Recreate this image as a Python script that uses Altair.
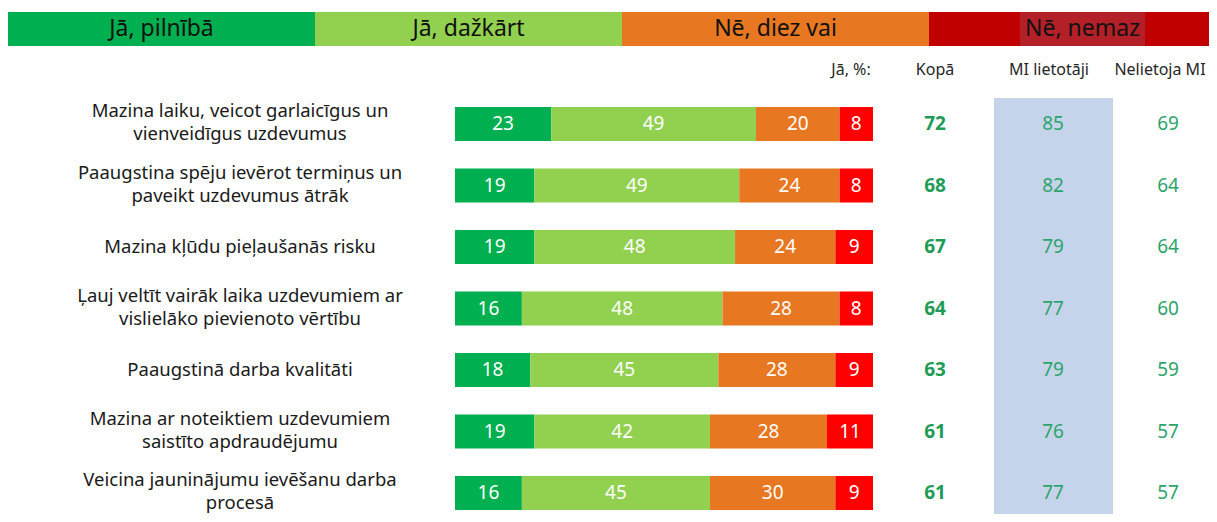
import altair as alt
import pandas as pd

# ---------------- data ----------------
tasks = [
    "Mazina laiku, veicot garlaicīgus un\nvienveidīgus uzdevumus",
    "Paaugstina spēju ievērot termiņus un\npaveikt uzdevumus ātrāk",
    "Mazina kļūdu pieļaušanās risku",
    "Ļauj veltīt vairāk laika uzdevumiem ar\nvislielāko pievienoto vērtību",
    "Paaugstinā darba kvalitāti",
    "Mazina ar noteiktiem uzdevumiem\nsaistīto apdraudējumu",
    "Veicina jauninājumu ievēšanu darba\nprocesā",
]
answers = ["Jā, pilnībā", "Jā, dažkārt", "Nē, diez vai", "Nē, nemaz"]
yes_fully = [23, 19, 19, 16, 18, 19, 16]
yes_sometimes = [49, 49, 48, 48, 45, 42, 45]
rather_not = [20, 24, 24, 28, 28, 28, 30]
not_at_all = [8, 8, 9, 8, 9, 11, 9]
total_yes = [72, 68, 67, 64, 63, 61, 61]
ai_users_yes = [85, 82, 79, 77, 79, 76, 77]
non_users_yes = [69, 64, 64, 60, 59, 57, 57]
col_headers = ["Jā, %:", "Kopā", "MI lietotāji", "Nelietoja MI"]

# ---------------- styles ----------------
bar_colors = ["#00B050", "#92D050", "#E87722", "#FF0000"]
legend_colors = ["#00B050", "#92D050", "#E87722", "#C00000"]
num_green_bold = "#1E9C57"
num_green = "#2DA46B"
FONT = "Noto Sans"

W, H = 1201, 506

# ---------------- tables ----------------
series = [yes_fully, yes_sometimes, rather_not, not_at_all]
rows = []
for i, t in enumerate(tasks):
    for j, a in enumerate(answers):
        rows.append({"task": t, "answer": a, "order": j, "value": series[j][i]})
bars_df = pd.DataFrame(rows)

parts = [t.split("\n") for t in tasks]
cols_df = pd.DataFrame({
    "task": tasks,
    "line1": [p[0] for p in parts],
    "line2": [p[1] if len(p) > 1 else "" for p in parts],
    "nlines": [len(p) for p in parts],
    "total": total_yes,
    "users": ai_users_yes,
    "nonusers": non_users_yes,
})
legend_df = pd.DataFrame({"answer": answers})

# ---------------- scales ----------------
y_scale = alt.Scale(type="band", domain=tasks, range=[85.25, 515.75],
                    paddingInner=0.4472, paddingOuter=0.2236)
Y = alt.Y("task:N", scale=y_scale, axis=None)
x_pct = alt.Scale(domain=[0, 100], range=[447, 865], nice=False, zero=False)
bar_color = alt.Color("answer:N", scale=alt.Scale(domain=answers, range=bar_colors), legend=None)

# ---------------- layers ----------------
stacked = alt.Chart(bars_df).transform_stack(
    stack="value", groupby=["task"], sort=[alt.SortField("order")], as_=["v0", "v1"]
).transform_calculate(mid="(datum.v0 + datum.v1) / 2")

bars = stacked.mark_bar(stroke=None).encode(
    x=alt.X("v0:Q", scale=x_pct, axis=None),
    x2="v1:Q",
    y=Y,
    color=bar_color,
)
bar_text = stacked.mark_text(font=FONT, fontSize=19, color="white", baseline="middle").encode(
    x=alt.X("mid:Q", scale=x_pct, axis=None),
    y=Y,
    text="value:Q",
)

label_style = dict(font=FONT, fontSize=18.5, color="#1a1a1a", align="center", baseline="middle")
lab_base = alt.Chart(cols_df)
lab_single = lab_base.transform_filter("datum.nlines == 1").mark_text(**label_style).encode(
    x=alt.value(232), y=Y, text="line1:N")
lab_top = lab_base.transform_filter("datum.nlines == 2").mark_text(dy=-13, **label_style).encode(
    x=alt.value(232), y=Y, text="line1:N")
lab_bot = lab_base.transform_filter("datum.nlines == 2").mark_text(dy=10, **label_style).encode(
    x=alt.value(232), y=Y, text="line2:N")

highlight = alt.Chart(pd.DataFrame({"a": [0]})).mark_rect(color="#C5D4EA").encode(
    x=alt.value(986), x2=alt.value(1105), y=alt.value(90), y2=alt.value(H)
)

col_total = alt.Chart(cols_df).mark_text(
    font=FONT, fontSize=19, fontWeight="bold", color=num_green_bold, baseline="middle"
).encode(x=alt.value(927), y=Y, text="total:Q")
col_users = alt.Chart(cols_df).mark_text(
    font=FONT, fontSize=19, color=num_green, baseline="middle"
).encode(x=alt.value(1045), y=Y, text="users:Q")
col_non = alt.Chart(cols_df).mark_text(
    font=FONT, fontSize=19, color=num_green, baseline="middle"
).encode(x=alt.value(1160), y=Y, text="nonusers:Q")

header_x = [843, 927, 1041, 1152]
headers = [
    alt.Chart(pd.DataFrame({"h": [h]})).mark_text(
        font=FONT, fontSize=16, color="#262626", baseline="middle"
    ).encode(x=alt.value(hx), y=alt.value(62), text="h:N")
    for h, hx in zip(col_headers, header_x)
]

leg_x = alt.X("answer:N", sort=answers,
              scale=alt.Scale(type="band", domain=answers, range=[0, 1228],
                              paddingInner=0, paddingOuter=0), axis=None)
legend_bar = alt.Chart(legend_df).mark_rect().encode(
    x=leg_x,
    y=alt.value(4), y2=alt.value(38),
    color=alt.Color("answer:N", scale=alt.Scale(domain=answers, range=legend_colors), legend=None),
)
legend_hl = alt.Chart(legend_df).transform_filter(
    alt.datum.answer == answers[3]
).mark_bar(width=125, color="#B42028").encode(
    x=leg_x, y=alt.value(4), y2=alt.value(38)
)
legend_text = alt.Chart(legend_df).mark_text(
    font=FONT, fontSize=23, color="#111111", baseline="middle"
).encode(x=leg_x, y=alt.value(21), text="answer:N")

legend = alt.layer(legend_bar, legend_hl, legend_text)

main = alt.layer(highlight, bars, bar_text, lab_single, lab_top, lab_bot,
                 col_total, col_users, col_non, *headers)

chart = alt.layer(legend, main).resolve_scale(
    x="independent", color="independent"
).properties(
    width=W, height=H, padding=0,
    autosize=alt.AutoSizeParams(type="none"),
    background="white",
).configure_view(strokeWidth=0)

chart.save("out.html", embed_options={"renderer": "svg", "actions": False})
